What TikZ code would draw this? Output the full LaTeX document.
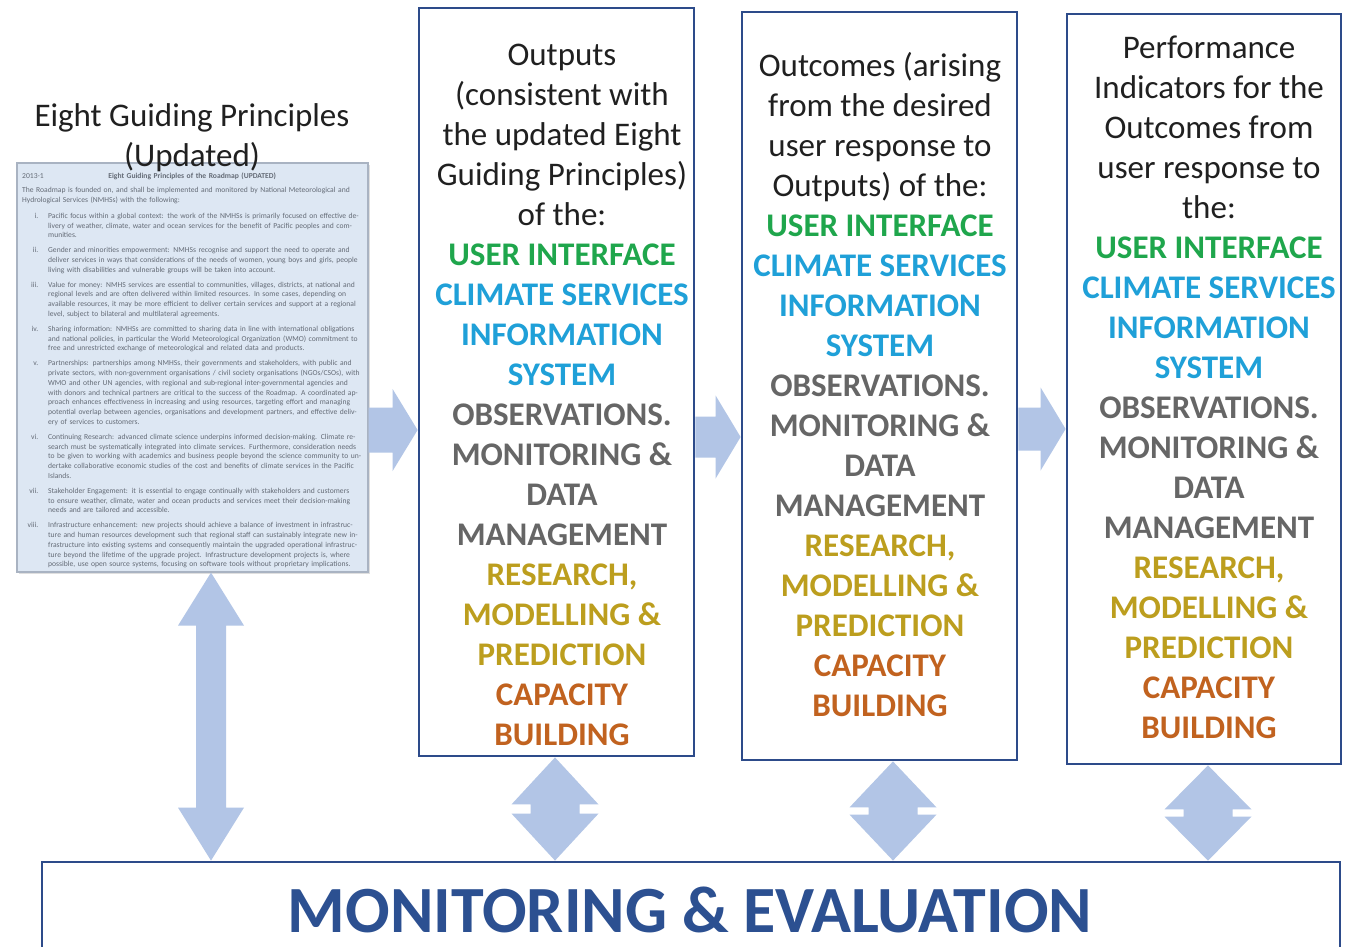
\documentclass[tikz,border=0pt]{standalone}
\usepackage{fontspec}
\setmainfont{Carlito}
\usetikzlibrary{calc,shadows}
\definecolor{boxblue}{HTML}{2D4B8A}
\definecolor{metext}{HTML}{2C5091}
\definecolor{arrowfill}{HTML}{B2C5E6}
\definecolor{docfill}{HTML}{DDE7F3}
\definecolor{docline}{HTML}{A9B3C2}
\definecolor{doctext}{HTML}{646B76}
\definecolor{cgreen}{HTML}{1FA64C}
\definecolor{ccyan}{HTML}{1FA0D8}
\definecolor{cgray}{HTML}{666666}
\definecolor{cgold}{HTML}{BC9E1E}
\definecolor{cbrown}{HTML}{C1621F}
\definecolor{ctext}{HTML}{202020}

\newcommand\themeline[2]{\textcolor{#1}{\bfseries #2}}
\newcommand\themelist{%
\themeline{cgreen}{USER INTERFACE}\\
\themeline{ccyan}{CLIMATE SERVICES}\\
\themeline{ccyan}{INFORMATION}\\
\themeline{ccyan}{SYSTEM}\\
\themeline{cgray}{OBSERVATIONS.}\\
\themeline{cgray}{MONITORING \&}\\
\themeline{cgray}{DATA}\\
\themeline{cgray}{MANAGEMENT}\\
\themeline{cgold}{RESEARCH,}\\
\themeline{cgold}{MODELLING \&}\\
\themeline{cgold}{PREDICTION}\\
\themeline{cbrown}{CAPACITY}\\
\themeline{cbrown}{BUILDING}}

\newcommand\docitem[2]{{\leftskip=26pt\noindent\llap{#1\hspace{10pt}}#2\par}\vspace{5pt}}

% #1 start, #2 tip, #3 head half width, #4 shaft half width, #5 head length
\newcommand\rightblock[5]{%
 \fill[arrowfill] let \p1=(#1), \p2=(#2) in
 (\x1,\y1+#4) -- (\x2-#5,\y1+#4) -- (\x2-#5,\y1+#3) -- (\x2,\y1)
 -- (\x2-#5,\y1-#3) -- (\x2-#5,\y1-#4) -- (\x1,\y1-#4) -- cycle;}
% #1 top tip, #2 bottom tip, #3 head half width, #4 shaft half width, #5 head length
\newcommand\vdouble[5]{%
 \fill[arrowfill] let \p1=(#1), \p2=(#2) in
 (\x1,\y1) -- (\x1+#3,\y1-#5) -- (\x1+#4,\y1-#5) -- (\x1+#4,\y2+#5)
 -- (\x1+#3,\y2+#5) -- (\x1,\y2) -- (\x1-#3,\y2+#5) -- (\x1-#4,\y2+#5)
 -- (\x1-#4,\y1-#5) -- (\x1-#3,\y1-#5) -- cycle;}

\begin{document}
\begin{tikzpicture}[x=1pt,y=-1pt,
  mainbox/.style={draw=boxblue, line width=2.8pt, fill=none, inner sep=0pt},
  boxtext/.style={align=center, inner sep=0pt, anchor=north, text=ctext,
                  font=\fontsize{33}{40}\selectfont},
  docbox/.style={draw=docline, line width=1.2pt, fill=docfill, inner sep=0pt,
                 minimum width=351pt, minimum height=409pt,
                 drop shadow={opacity=0.25, shadow xshift=2pt, shadow yshift=-2pt}},
  doctextstyle/.style={anchor=north west, inner sep=0pt, text width=340pt, align=left,
                 text=doctext, font=\fontsize{7.6}{9.8}\selectfont}
]
\useasboundingbox (0,0) rectangle (1345,947);
\fill[white] (0,0) rectangle (1345,947);

% thumbnail of the document
\node[docbox] (doc) at (192.5,367.5) {};
\node[doctextstyle] (doctxt) at (22,173) {%
\noindent\makebox[340pt]{\rlap{2013-1}\hfill\textbf{Eight Guiding Principles of the Roadmap (UPDATED)}\hfill}\par
\vspace{4pt}
\noindent The Roadmap is founded on, and shall be implemented and monitored by National Meteorological and Hydrological Services (NMHSs) with the following:\par
\vspace{6pt}
\docitem{i.}{Pacific focus within a global context: the work of the NMHSs is primarily focused on effective delivery of weather, climate, water and ocean services for the benefit of Pacific peoples and communities.}
\docitem{ii.}{Gender and minorities empowerment: NMHSs recognise and support the need to operate and deliver services in ways that considerations of the needs of women, young boys and girls, people living with disabilities and vulnerable groups will be taken into account.}
\docitem{iii.}{Value for money: NMHS services are essential to communities, villages, districts, at national and regional levels and are often delivered within limited resources. In some cases, depending on available resources, it may be more efficient to deliver certain services and support at a regional level, subject to bilateral and multilateral agreements.}
\docitem{iv.}{Sharing information: NMHSs are committed to sharing data in line with international obligations and national policies, in particular the World Meteorological Organization (WMO) commitment to free and unrestricted exchange of meteorological and related data and products.}
\docitem{v.}{Partnerships: partnerships among NMHSs, their governments and stakeholders, with public and private sectors, with non-government organisations / civil society organisations (NGOs/CSOs), with WMO and other UN agencies, with regional and sub-regional inter-governmental agencies and with donors and technical partners are critical to the success of the Roadmap. A coordinated approach enhances effectiveness in increasing and using resources, targeting effort and managing potential overlap between agencies, organisations and development partners, and effective delivery of services to customers.}
\docitem{vi.}{Continuing Research: advanced climate science underpins informed decision-making. Climate research must be systematically integrated into climate services. Furthermore, consideration needs to be given to working with academics and business people beyond the science community to undertake collaborative economic studies of the cost and benefits of climate services in the Pacific Islands.}
\docitem{vii.}{Stakeholder Engagement: it is essential to engage continually with stakeholders and customers to ensure weather, climate, water and ocean products and services meet their decision-making needs and are tailored and accessible.}
\docitem{viii.}{Infrastructure enhancement: new projects should achieve a balance of investment in infrastructure and human resources development such that regional staff can sustainably integrate new infrastructure into existing systems and consequently maintain the upgraded operational infrastructure beyond the lifetime of the upgrade project. Infrastructure development projects is, where possible, use open source systems, focusing on software tools without proprietary implications.}
};

% title
\node[boxtext] (title) at (192,98) {\strut Eight Guiding Principles\\(Updated)};

% three column boxes
\node[mainbox, minimum width=275pt, minimum height=748pt] (box1) at (556.5,382) {};
\node[mainbox, minimum width=275pt, minimum height=748pt] (box2) at (879.5,386) {};
\node[mainbox, minimum width=274pt, minimum height=750pt] (box3) at (1204,389) {};

\node[boxtext] (t1) at (562,37) {\strut Outputs\\(consistent with\\the updated Eight\\Guiding Principles)\\of the:\\\themelist};
\node[boxtext] (t2) at (880,48) {\strut Outcomes (arising\\from the desired\\user response to\\Outputs) of the:\\\themelist};
\node[boxtext] (t3) at (1209,30) {\strut Performance\\Indicators for the\\Outcomes from\\user response to\\the:\\\themelist};

% bottom box
\node[mainbox, minimum width=1298pt, minimum height=96pt] (me) at (691,910) {};
\node[inner sep=0pt, text=metext, font=\fontsize{66}{70}\selectfont\bfseries] (metxt) at (690,910) {MONITORING \& EVALUATION};

% horizontal block arrows
\rightblock{doc.east |- 0,430}{box1.west |- 0,430}{41pt}{22.5pt}{25pt}
\rightblock{box1.east |- 0,437}{box2.west |- 0,437}{41.5pt}{20.5pt}{25pt}
\rightblock{box2.east |- 0,429}{box3.west |- 0,429}{41.5pt}{21.5pt}{25pt}

% vertical double arrows
\coordinate (lt) at ($(doc.south)+(18.5,0)$);
\coordinate (lb) at (lt |- me.north);
\vdouble{lt}{lb}{33pt}{15pt}{53pt}

\coordinate (s1t) at ($(box1.south)+(-1.5,0)$);
\coordinate (s1b) at (s1t |- me.north);
\vdouble{s1t}{s1b}{43.5pt}{24.5pt}{47pt}

\coordinate (s2t) at ($(box2.south)+(13.5,0)$);
\coordinate (s2b) at (s2t |- me.north);
\vdouble{s2t}{s2b}{43.5pt}{24.5pt}{46pt}

\coordinate (s3t) at ($(box3.south)+(4,0)$);
\coordinate (s3b) at (s3t |- me.north);
\vdouble{s3t}{s3b}{43.5pt}{24.5pt}{44pt}
\end{tikzpicture}
\end{document}
